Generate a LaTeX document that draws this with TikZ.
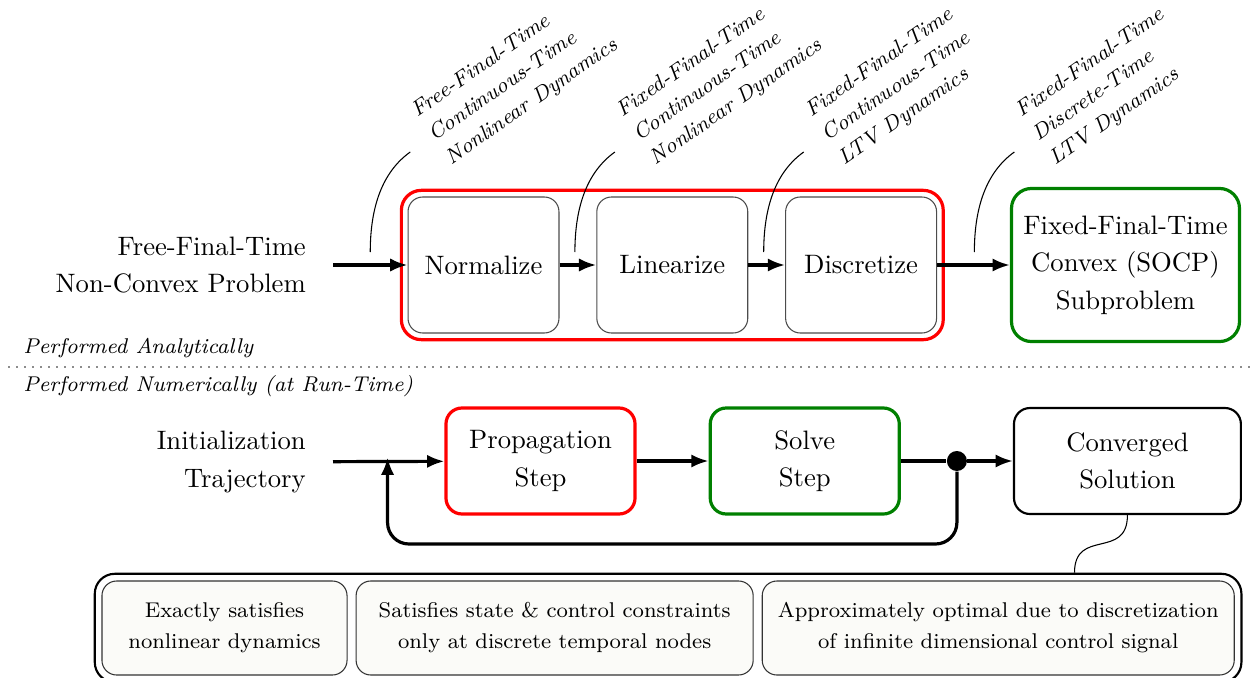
\documentclass[tikz,border=0pt]{standalone}
\usepackage{xcolor}
\usepackage{tikz}
\usetikzlibrary{arrows.meta, positioning, fit, calc}
\definecolor{stagered}{HTML}{FF0000}
\definecolor{solvegreen}{HTML}{008000}
\definecolor{notefill}{HTML}{FBFBF8}

\begin{document}
\begin{tikzpicture}[
        x=0.375pt, y=-0.375pt,
        arrow/.style={-{Latex[length=6.5pt,width=5pt]}, very thick},
        wire/.style={very thick},
        pinline/.style={thin},
        pinlbl/.style={anchor=west, rotate=35, align=left, font=\fontsize{8}{10.9}\selectfont\itshape, inner xsep=9.5pt},
        textlbl/.style={align=right, font=\fontsize{10}{14}\selectfont, inner xsep=10pt},
        phaselbl/.style={anchor=base west, font=\footnotesize\itshape},
        stagebox/.style={draw=black!70, thin, rounded corners=5.5pt, minimum width=56.6pt, minimum height=51pt, font=\fontsize{10}{14}\selectfont},
        bigbox/.style={draw, very thick, rounded corners=7.5pt, minimum width=85.5pt, minimum height=57.4pt, align=center, font=\fontsize{10}{14}\selectfont},
        stepbox/.style={draw, very thick, rounded corners=6pt, minimum width=70.9pt, minimum height=39.75pt, align=center, font=\fontsize{10}{14}\selectfont},
        notebox/.style={draw=black!80, thin, fill=notefill, rounded corners=5.5pt, minimum height=35.25pt, align=center, font=\fontsize{8}{11.6}\selectfont},
        dot/.style={circle, fill, inner sep=0pt, minimum size=7.5pt}
    ]
        \useasboundingbox (0,0) rectangle (1250,678);

        % analytic part
        \node (normalize) [stagebox] at (483.5,265) {Normalize};
        \node (linearize) [stagebox, right=13.8pt of normalize] {Linearize};
        \node (discretize) [stagebox, right=13.8pt of linearize] {Discretize};
        \node (convexify) [draw=stagered, very thick, rounded corners=7.5pt, inner sep=2.3pt, fit=(normalize)(discretize)] {};
        \node (socp) [bigbox, draw=solvegreen, right=24.4pt of convexify] {Fixed-Final-Time\\Convex (SOCP)\\Subproblem};
        \node (problem) [textlbl, anchor=east] at (333,265) {Free-Final-Time\\Non-Convex Problem};

        \draw [arrow] (problem) -- (normalize);
        \draw [arrow] (normalize) -- (linearize);
        \draw [arrow] (linearize) -- (discretize);
        \draw [arrow] (discretize) -- (socp);

        \coordinate (pinA) at ($(problem.east)!0.5!(normalize.west)+(0,-13)$);
        \coordinate (pinB) at ($(normalize.east)!0.5!(linearize.west)+(-3,-13)$);
        \coordinate (pinC) at ($(linearize.east)!0.5!(discretize.west)+(-3,-13)$);
        \coordinate (pinD) at ($(convexify.east)!0.5!(socp.west)+(-3,-13)$);
        \draw [pinline] (pinA) .. controls +(0,-45) and +(-28,20) .. ($(pinA)+(40,-100)$) node [pinlbl] {Free-Final-Time\\Continuous-Time\\Nonlinear Dynamics};
        \draw [pinline] (pinB) .. controls +(0,-45) and +(-28,20) .. ($(pinB)+(40,-100)$) node [pinlbl] {Fixed-Final-Time\\Continuous-Time\\Nonlinear Dynamics};
        \draw [pinline] (pinC) .. controls +(0,-45) and +(-28,20) .. ($(pinC)+(40,-100)$) node [pinlbl] {Fixed-Final-Time\\Continuous-Time\\LTV Dynamics};
        \draw [pinline] (pinD) .. controls +(0,-45) and +(-28,20) .. ($(pinD)+(40,-100)$) node [pinlbl] {Fixed-Final-Time\\Discrete-Time\\LTV Dynamics};

        % separator
        \coordinate (sepleft) at (8,367);
        \coordinate (sepright) at (1250,367);
        \draw [black!45, line width=0.6pt, dash pattern=on 0.6pt off 2.4pt] (sepleft) -- (sepright);
        \node (analytic) [phaselbl] at (14,353) {Performed Analytically};
        \node (numeric) [phaselbl] at (14,391) {Performed Numerically (at Run-Time)};

        % numerical part
        \node (init) [textlbl, anchor=east] at (333,462) {Initialization\\Trajectory};
        \node (propagate) [stepbox, draw=stagered] at (540.5,461) {Propagation\\Step};
        \node (solve) [stepbox, draw=solvegreen, right=27pt of propagate] {Solve\\Step};
        \node (converged) [stepbox, thick, minimum width=85.1pt, right=42pt of solve] {Converged\\Solution};
        \node (split) [dot] at ($(solve.east)!0.5!(converged.west)$) {};
        \coordinate (merge) at ($(init.east)!0.49!(propagate.west)$);

        \draw [arrow] (init) -- (propagate);
        \draw [arrow] (propagate) -- (solve);
        \draw [wire] (solve) -- (split);
        \draw [arrow] (split) -- (converged);
        \draw [arrow, rounded corners=8pt, shorten >=-1.5pt] (split) -- ++(0,83) -| (merge);

        % properties of the solution
        \node (exact) [notebox, minimum width=91.9pt] at (224.5,628) {Exactly satisfies\\nonlinear dynamics};
        \node (nodal) [notebox, minimum width=148.9pt, right=3pt of exact] {Satisfies state \& control constraints\\only at discrete temporal nodes};
        \node (approx) [notebox, minimum width=177pt, right=3pt of nodal] {Approximately optimal due to discretization\\of infinite dimensional control signal};
        \node (notes) [draw, thick, rounded corners=7.5pt, inner sep=2.5pt, fit=(exact)(approx)] {};
        \coordinate (notetap) at ([xshift=-63pt]notes.north east);
        \draw [pinline] (converged.south) .. controls +(0,45) and +(0,-45) .. (notetap);
    \end{tikzpicture}
\end{document}
